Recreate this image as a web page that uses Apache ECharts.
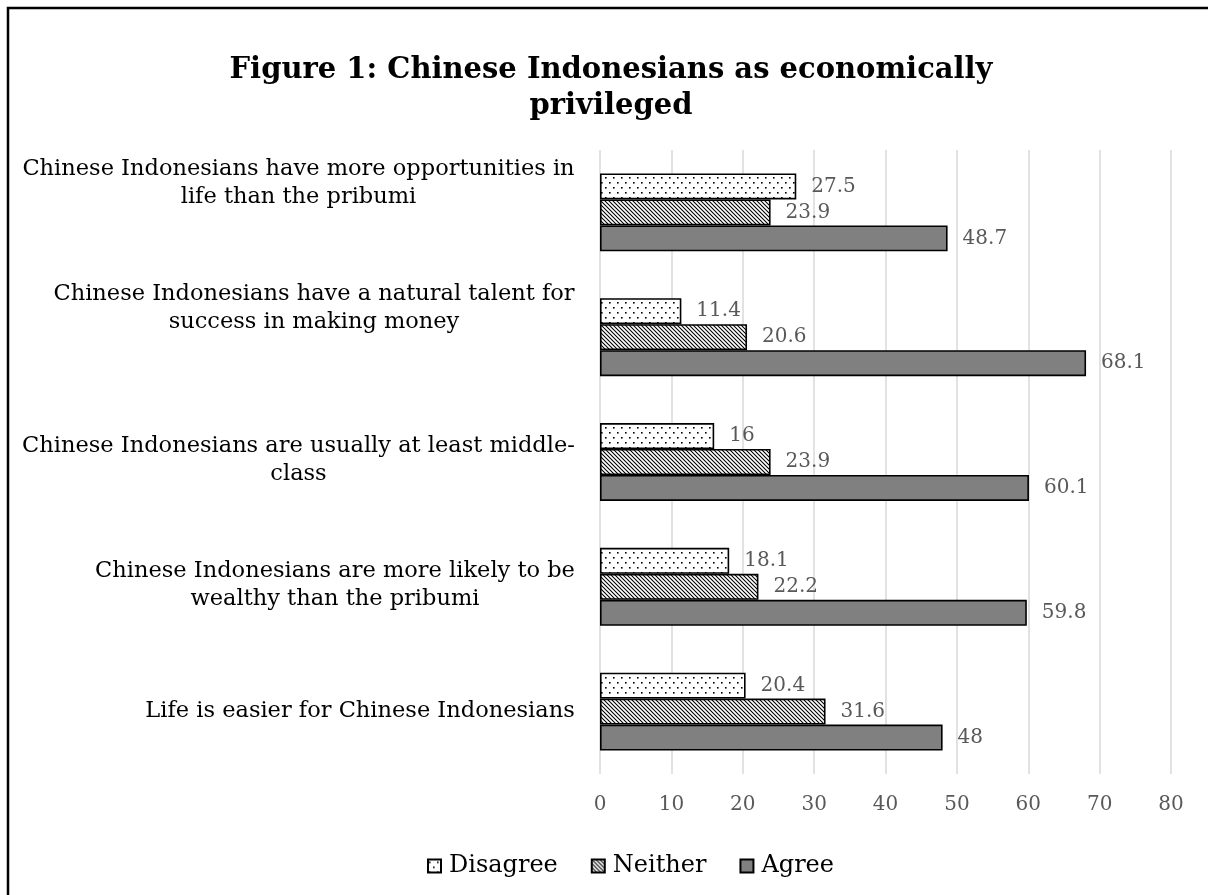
<!DOCTYPE html>
<html>
  <head>
    <meta charset="utf-8" />
    <title>Figure 1</title>
    <style>
      body {
        margin: 0;
        padding: 0;
        background: #fff;
      }
      #chart {
        width: 1208px;
        height: 895px;
      }
    </style>
  </head>
  <body>
    <div id="chart"></div>
    <script src="https://cdn.jsdelivr.net/npm/echarts@6/dist/echarts.min.js"></script>
    <script type="text/javascript">
      var categories = [
        'Chinese Indonesians have more opportunities in\nlife than the pribumi',
        'Chinese Indonesians have a natural talent for\nsuccess in making money',
        'Chinese Indonesians are usually at least middle-\nclass',
        'Chinese Indonesians are more likely to be\nwealthy than the pribumi',
        'Life is easier for Chinese Indonesians'
      ];
      var disagree = [27.5, 11.4, 16, 18.1, 20.4];
      var neither = [23.9, 20.6, 23.9, 22.2, 31.6];
      var agree = [48.7, 68.1, 60.1, 59.8, 48];
      var xTicks = [0, 80, 10];

      var serif = 'DejaVu Serif';
      var catSize = 22.5;
      // the first two labels sit higher in the original
      var labelLift = [29, 29, 2, 2, 0];

      // fill patterns like the office ones
      function dotPattern() {
        var c = document.createElement('canvas');
        c.width = 8;
        c.height = 10;
        var ctx = c.getContext('2d');
        ctx.fillStyle = '#fff';
        ctx.fillRect(0, 0, 8, 10);
        ctx.fillStyle = '#000';
        ctx.fillRect(1, 2, 1.6, 1.6);
        ctx.fillRect(5, 7, 1.6, 1.6);
        return c;
      }
      function hatchPattern() {
        var c = document.createElement('canvas');
        c.width = 4;
        c.height = 4;
        var ctx = c.getContext('2d');
        ctx.fillStyle = '#fff';
        ctx.fillRect(0, 0, 4, 4);
        ctx.strokeStyle = '#000';
        ctx.lineWidth = 1.1;
        [-4, 0, 4].forEach(function (o) {
          ctx.beginPath();
          ctx.moveTo(o - 1, -1);
          ctx.lineTo(o + 5, 5);
          ctx.stroke();
        });
        return c;
      }

      // centre the lines of each label inside a right-aligned block
      var measure = document.createElement('canvas').getContext('2d');
      measure.font = catSize + 'px "' + serif + '"';
      var rich = {};
      categories.forEach(function (cat, i) {
        var w = 0;
        cat.split('\n').forEach(function (line) {
          w = Math.max(w, measure.measureText(line).width);
        });
        rich['l' + i] = { width: Math.ceil(w), align: 'center', fontFamily: serif, fontSize: catSize, lineHeight: 28, color: '#000' };
        rich['p' + i] = { fontSize: 2, lineHeight: Math.max(labelLift[i] * 2, 1) };
      });

      var chart = echarts.init(document.getElementById('chart'));

      function barSeries(name, data, fill) {
        return {
          name: name,
          type: 'bar',
          data: data,
          barGap: '0%',
          barCategoryGap: '37.6%',
          itemStyle: { color: fill, borderColor: '#000', borderWidth: 1.6 },
          label: {
            show: true,
            position: 'right',
            distance: 15,
            color: '#595959',
            fontFamily: serif,
            fontSize: 20
          }
        };
      }

      var option = {
        backgroundColor: '#fff',
        animation: false,
        title: {
          text: 'Figure 1: Chinese Indonesians as economically\nprivileged',
          left: 606,
          top: 47,
          textAlign: 'center',
          textStyle: { fontFamily: serif, fontWeight: 'bold', fontSize: 29, lineHeight: 36, color: '#000' }
        },
        graphic: [
          {
            type: 'rect',
            shape: { x: 8, y: 8, width: 1230, height: 920 },
            style: { fill: 'none', stroke: '#000', lineWidth: 2.5 },
            silent: true
          }
        ],
        legend: {
          left: 427,
          top: 854,
          padding: 0,
          itemWidth: 13,
          itemHeight: 13,
          itemGap: 33,
          icon: 'rect',
          textStyle: { fontFamily: serif, fontSize: 24, color: '#000', padding: [0, 0, 0, 3] },
          data: ['Disagree', 'Neither', 'Agree']
        },
        grid: { left: 600, top: 150, width: 571, height: 624, containLabel: false },
        xAxis: {
          type: 'value',
          min: xTicks[0],
          max: xTicks[1],
          interval: xTicks[2],
          axisLine: { show: false },
          axisTick: { show: false },
          splitLine: { lineStyle: { color: '#d9d9d9', width: 1.5 } },
          axisLabel: { color: '#595959', fontFamily: serif, fontSize: 20, margin: 21 }
        },
        yAxis: {
          type: 'category',
          inverse: true,
          data: categories,
          axisLine: { show: false },
          axisTick: { show: false },
          axisLabel: {
            margin: 25,
            align: 'right',
            formatter: function (v, i) {
              var out = v
                .split('\n')
                .map(function (line) {
                  return '{l' + i + '|' + line + '}';
                })
                .join('\n');
              if (labelLift[i] > 0) out += '\n{p' + i + '| }';
              return out;
            },
            rich: rich
          }
        },
        series: [
          barSeries('Disagree', disagree, { image: dotPattern(), repeat: 'repeat' }),
          barSeries('Neither', neither, { image: hatchPattern(), repeat: 'repeat' }),
          barSeries('Agree', agree, '#808080')
        ]
      };
      chart.setOption(option);
    </script>
  </body>
</html>
